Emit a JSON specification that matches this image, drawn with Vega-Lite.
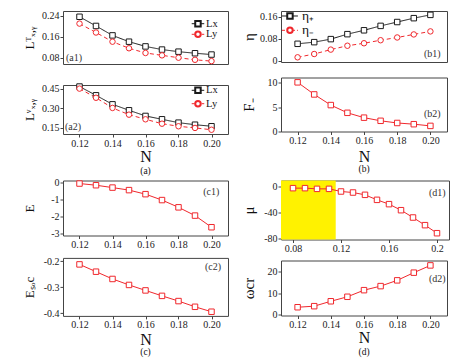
{
 "$schema": "https://vega.github.io/schema/vega-lite/v6.json",
 "padding": {"left": 22, "top": 8, "right": 2, "bottom": 0},
 "background": "white",
 "config": {
  "font": "Liberation Serif",
  "view": {"stroke": "#444", "strokeWidth": 1},
  "axis": {"domain": false, "grid": false, "labelOverlap": false, "labelFlush": false, "labelFont": "Liberation Serif", "labelFontSize": 10, "labelColor": "#222", "tickColor": "#444", "tickSize": 3, "labelPadding": 1, "titleFont": "Liberation Serif", "titleFontWeight": "normal", "titleColor": "#111", "titleFontSize": 13},
  "title": {"font": "Liberation Serif", "fontSize": 9.5, "fontWeight": "normal", "orient": "bottom", "frame": "group", "offset": 1, "color": "#111"},
  "text": {"font": "Liberation Serif"}
 },
 "datasets": {
  "lt": [
   {"N": 0.12, "series": "Lx", "L": 0.237}, {"N": 0.13, "series": "Lx", "L": 0.202}, {"N": 0.14, "series": "Lx", "L": 0.166},
   {"N": 0.15, "series": "Lx", "L": 0.142}, {"N": 0.16, "series": "Lx", "L": 0.124}, {"N": 0.17, "series": "Lx", "L": 0.112},
   {"N": 0.18, "series": "Lx", "L": 0.104}, {"N": 0.19, "series": "Lx", "L": 0.098}, {"N": 0.20, "series": "Lx", "L": 0.093},
   {"N": 0.12, "series": "Ly", "L": 0.211}, {"N": 0.13, "series": "Ly", "L": 0.177}, {"N": 0.14, "series": "Ly", "L": 0.142},
   {"N": 0.15, "series": "Ly", "L": 0.117}, {"N": 0.16, "series": "Ly", "L": 0.099}, {"N": 0.17, "series": "Ly", "L": 0.090},
   {"N": 0.18, "series": "Ly", "L": 0.081}, {"N": 0.19, "series": "Ly", "L": 0.073}, {"N": 0.20, "series": "Ly", "L": 0.068}
  ],
  "lv": [
   {"N": 0.12, "series": "Lx", "L": 0.468}, {"N": 0.13, "series": "Lx", "L": 0.400}, {"N": 0.14, "series": "Lx", "L": 0.330},
   {"N": 0.15, "series": "Lx", "L": 0.284}, {"N": 0.16, "series": "Lx", "L": 0.240}, {"N": 0.17, "series": "Lx", "L": 0.214},
   {"N": 0.18, "series": "Lx", "L": 0.188}, {"N": 0.19, "series": "Lx", "L": 0.172}, {"N": 0.20, "series": "Lx", "L": 0.160},
   {"N": 0.12, "series": "Ly", "L": 0.452}, {"N": 0.13, "series": "Ly", "L": 0.381}, {"N": 0.14, "series": "Ly", "L": 0.302},
   {"N": 0.15, "series": "Ly", "L": 0.250}, {"N": 0.16, "series": "Ly", "L": 0.214}, {"N": 0.17, "series": "Ly", "L": 0.180},
   {"N": 0.18, "series": "Ly", "L": 0.160}, {"N": 0.19, "series": "Ly", "L": 0.147}, {"N": 0.20, "series": "Ly", "L": 0.133}
  ],
  "eta": [
   {"N": 0.12, "series": "η₊", "eta": 0.061}, {"N": 0.13, "series": "η₊", "eta": 0.067}, {"N": 0.14, "series": "η₊", "eta": 0.078},
   {"N": 0.15, "series": "η₊", "eta": 0.096}, {"N": 0.16, "series": "η₊", "eta": 0.110}, {"N": 0.17, "series": "η₊", "eta": 0.126},
   {"N": 0.18, "series": "η₊", "eta": 0.140}, {"N": 0.19, "series": "η₊", "eta": 0.154}, {"N": 0.20, "series": "η₊", "eta": 0.166},
   {"N": 0.12, "series": "η₋", "eta": 0.012}, {"N": 0.13, "series": "η₋", "eta": 0.024}, {"N": 0.14, "series": "η₋", "eta": 0.040},
   {"N": 0.15, "series": "η₋", "eta": 0.054}, {"N": 0.16, "series": "η₋", "eta": 0.063}, {"N": 0.17, "series": "η₋", "eta": 0.074},
   {"N": 0.18, "series": "η₋", "eta": 0.084}, {"N": 0.19, "series": "η₋", "eta": 0.095}, {"N": 0.20, "series": "η₋", "eta": 0.106}
  ],
  "F": [
   {"N": 0.12, "F": 10.1}, {"N": 0.13, "F": 7.6}, {"N": 0.14, "F": 5.4}, {"N": 0.15, "F": 3.8}, {"N": 0.16, "F": 2.8},
   {"N": 0.17, "F": 2.15}, {"N": 0.18, "F": 1.7}, {"N": 0.19, "F": 1.45}, {"N": 0.20, "F": 1.1}
  ],
  "E": [
   {"N": 0.12, "E": -0.06}, {"N": 0.13, "E": -0.16}, {"N": 0.14, "E": -0.3}, {"N": 0.15, "E": -0.45}, {"N": 0.16, "E": -0.69},
   {"N": 0.17, "E": -1.04}, {"N": 0.18, "E": -1.47}, {"N": 0.19, "E": -1.96}, {"N": 0.20, "E": -2.65}
  ],
  "Esoc": [
   {"N": 0.12, "Esoc": -0.212}, {"N": 0.13, "Esoc": -0.240}, {"N": 0.14, "Esoc": -0.268}, {"N": 0.15, "Esoc": -0.291},
   {"N": 0.16, "Esoc": -0.312}, {"N": 0.17, "Esoc": -0.333}, {"N": 0.18, "Esoc": -0.353}, {"N": 0.19, "Esoc": -0.375},
   {"N": 0.20, "Esoc": -0.394}
  ],
  "mu": [
   {"N": 0.08, "mu": -2.1}, {"N": 0.09, "mu": -2.1}, {"N": 0.10, "mu": -3.2}, {"N": 0.11, "mu": -3.2}, {"N": 0.12, "mu": -7.3},
   {"N": 0.13, "mu": -8.9}, {"N": 0.14, "mu": -12.5}, {"N": 0.15, "mu": -20.3}, {"N": 0.16, "mu": -27.0}, {"N": 0.17, "mu": -36.4},
   {"N": 0.18, "mu": -47.8}, {"N": 0.19, "mu": -59.7}, {"N": 0.20, "mu": -72.2}
  ],
  "omega": [
   {"N": 0.12, "w": 3.4}, {"N": 0.13, "w": 3.9}, {"N": 0.14, "w": 6.2}, {"N": 0.15, "w": 8.3}, {"N": 0.16, "w": 11.4},
   {"N": 0.17, "w": 13.3}, {"N": 0.18, "w": 16.0}, {"N": 0.19, "w": 19.6}, {"N": 0.20, "w": 23.0}
  ]
 },
 "spacing": 0.5,
 "vconcat": [
  {"hconcat": [
   {"vconcat": [
    {"width": 165, "height": 53, "data": {"name": "lt"},
     "layer": [
      {"mark": {"type": "line", "strokeWidth": 1},
       "encoding": {
        "x": {"field": "N", "type": "quantitative", "scale": {"domain": [0.11, 0.21], "nice": false, "zero": false}, "axis": null},
        "y": {"field": "L", "type": "quantitative", "scale": {"domain": [0.057, 0.259], "nice": false, "zero": false},
              "axis": {"title": "Lᵀₓ,ᵧ", "values": [0.08, 0.16, 0.24], "tickCount": 10, "labelOverlap": false, "format": ".2f", "minExtent": 24, "maxExtent": 24, "titlePadding": 3}},
        "color": {"field": "series", "type": "nominal", "scale": {"domain": ["Lx", "Ly"], "range": ["#1a1a1a", "#f0282d"]}, "legend": null},
        "strokeDash": {"field": "series", "type": "nominal", "scale": {"domain": ["Lx", "Ly"], "range": [[1, 0], [4, 3]]}, "legend": null}}},
      {"mark": {"type": "point", "filled": false, "fill": "white", "size": 30, "strokeWidth": 1, "opacity": 1},
       "encoding": {
        "x": {"field": "N", "type": "quantitative"},
        "y": {"field": "L", "type": "quantitative"},
        "color": {"field": "series", "type": "nominal", "legend": null},
        "shape": {"field": "series", "type": "nominal", "scale": {"domain": ["Lx", "Ly"], "range": ["square", "circle"]}, "legend": null}}},
      {"data": {"values": [{}]}, "mark": {"type": "rule", "color": "#1a1a1a", "strokeWidth": 1},
       "encoding": {"x": {"datum": 0.188}, "x2": {"datum": 0.1956}, "y": {"datum": 0.2106}}},
      {"data": {"values": [{}]}, "mark": {"type": "point", "shape": "square", "color": "#1a1a1a", "fill": "white", "filled": false, "size": 30, "opacity": 1},
       "encoding": {"x": {"datum": 0.1918}, "y": {"datum": 0.2106}}},
      {"data": {"values": [{}]}, "mark": {"type": "text", "align": "left", "baseline": "middle", "fontSize": 10.5, "color": "#111"},
       "encoding": {"x": {"datum": 0.1967}, "y": {"datum": 0.2106}, "text": {"value": "Lx"}}},
      {"data": {"values": [{}]}, "mark": {"type": "rule", "color": "#f0282d", "strokeWidth": 1, "strokeDash": [3, 2]},
       "encoding": {"x": {"datum": 0.188}, "x2": {"datum": 0.1956}, "y": {"datum": 0.1702}}},
      {"data": {"values": [{}]}, "mark": {"type": "point", "shape": "circle", "color": "#f0282d", "fill": "white", "filled": false, "size": 30, "opacity": 1},
       "encoding": {"x": {"datum": 0.1918}, "y": {"datum": 0.1702}}},
      {"data": {"values": [{}]}, "mark": {"type": "text", "align": "left", "baseline": "middle", "fontSize": 10.5, "color": "#111"},
       "encoding": {"x": {"datum": 0.1967}, "y": {"datum": 0.1702}, "text": {"value": "Ly"}}},
      {"data": {"values": [{}]}, "mark": {"type": "text", "align": "left", "baseline": "middle", "fontSize": 10, "color": "#333"},
       "encoding": {"x": {"datum": 0.1118}, "y": {"datum": 0.0799}, "text": {"value": "(a1)"}}}
     ]},
    {"width": 165, "height": 49, "data": {"name": "lv"},
     "title": {"text": "(a)", "offset": 1.8},
     "layer": [
      {"mark": {"type": "line", "strokeWidth": 1},
       "encoding": {
        "x": {"field": "N", "type": "quantitative", "scale": {"domain": [0.11, 0.21], "nice": false, "zero": false},
              "axis": {"title": "N", "values": [0.12, 0.14, 0.16, 0.18, 0.2], "tickCount": 10, "format": ".2f", "titleFontSize": 16, "titlePadding": 0, "minExtent": 14, "maxExtent": 14}},
        "y": {"field": "L", "type": "quantitative", "scale": {"domain": [0.1, 0.48], "nice": false, "zero": false},
              "axis": {"title": "Lᵛₓ,ᵧ", "values": [0.15, 0.30, 0.45], "tickCount": 10, "labelOverlap": false, "format": ".2f", "minExtent": 24, "maxExtent": 24, "titlePadding": 3}},
        "color": {"field": "series", "type": "nominal", "scale": {"domain": ["Lx", "Ly"], "range": ["#1a1a1a", "#f0282d"]}, "legend": null},
        "strokeDash": {"field": "series", "type": "nominal", "scale": {"domain": ["Lx", "Ly"], "range": [[1, 0], [4, 3]]}, "legend": null}}},
      {"mark": {"type": "point", "filled": false, "fill": "white", "size": 30, "strokeWidth": 1, "opacity": 1},
       "encoding": {
        "x": {"field": "N", "type": "quantitative"},
        "y": {"field": "L", "type": "quantitative"},
        "color": {"field": "series", "type": "nominal", "legend": null},
        "shape": {"field": "series", "type": "nominal", "scale": {"domain": ["Lx", "Ly"], "range": ["square", "circle"]}, "legend": null}}},
      {"data": {"values": [{}]}, "mark": {"type": "rule", "color": "#1a1a1a", "strokeWidth": 1},
       "encoding": {"x": {"datum": 0.188}, "x2": {"datum": 0.1956}, "y": {"datum": 0.4389}}},
      {"data": {"values": [{}]}, "mark": {"type": "point", "shape": "square", "color": "#1a1a1a", "fill": "white", "filled": false, "size": 30, "opacity": 1},
       "encoding": {"x": {"datum": 0.1918}, "y": {"datum": 0.4389}}},
      {"data": {"values": [{}]}, "mark": {"type": "text", "align": "left", "baseline": "middle", "fontSize": 10.5, "color": "#111"},
       "encoding": {"x": {"datum": 0.1967}, "y": {"datum": 0.4389}, "text": {"value": "Lx"}}},
      {"data": {"values": [{}]}, "mark": {"type": "rule", "color": "#f0282d", "strokeWidth": 1, "strokeDash": [3, 2]},
       "encoding": {"x": {"datum": 0.188}, "x2": {"datum": 0.1956}, "y": {"datum": 0.335}}},
      {"data": {"values": [{}]}, "mark": {"type": "point", "shape": "circle", "color": "#f0282d", "fill": "white", "filled": false, "size": 30, "opacity": 1},
       "encoding": {"x": {"datum": 0.1918}, "y": {"datum": 0.335}}},
      {"data": {"values": [{}]}, "mark": {"type": "text", "align": "left", "baseline": "middle", "fontSize": 10.5, "color": "#111"},
       "encoding": {"x": {"datum": 0.1967}, "y": {"datum": 0.335}, "text": {"value": "Ly"}}},
      {"data": {"values": [{}]}, "mark": {"type": "text", "align": "left", "baseline": "middle", "fontSize": 10, "color": "#333"},
       "encoding": {"x": {"datum": 0.1112}, "y": {"datum": 0.154}, "text": {"value": "(a2)"}}}
     ]}
   ], "spacing": 14},
   {"vconcat": [
    {"width": 166, "height": 51, "data": {"name": "eta"},
     "layer": [
      {"mark": {"type": "line", "strokeWidth": 1},
       "encoding": {
        "x": {"field": "N", "type": "quantitative", "scale": {"domain": [0.11, 0.21], "nice": false, "zero": false}, "axis": null},
        "y": {"field": "eta", "type": "quantitative", "scale": {"domain": [-0.005, 0.18], "nice": false, "zero": false},
              "axis": {"title": "η", "values": [0, 0.08, 0.16], "tickCount": 10, "labelOverlap": false, "format": "~g", "minExtent": 22, "maxExtent": 22, "titlePadding": 3, "titleFontSize": 15}},
        "color": {"field": "series", "type": "nominal", "scale": {"domain": ["η₊", "η₋"], "range": ["#1a1a1a", "#f0282d"]}, "legend": null},
        "strokeDash": {"field": "series", "type": "nominal", "scale": {"domain": ["η₊", "η₋"], "range": [[1, 0], [4, 3]]}, "legend": null}}},
      {"mark": {"type": "point", "filled": false, "fill": "white", "size": 30, "strokeWidth": 1, "opacity": 1},
       "encoding": {
        "x": {"field": "N", "type": "quantitative"},
        "y": {"field": "eta", "type": "quantitative"},
        "color": {"field": "series", "type": "nominal", "legend": null},
        "shape": {"field": "series", "type": "nominal", "scale": {"domain": ["η₊", "η₋"], "range": ["square", "circle"]}, "legend": null}}},
      {"data": {"values": [{}]}, "mark": {"type": "rule", "color": "#1a1a1a", "strokeWidth": 1},
       "encoding": {"x": {"datum": 0.1106}, "x2": {"datum": 0.1202}, "y": {"datum": 0.1619}}},
      {"data": {"values": [{}]}, "mark": {"type": "point", "shape": "square", "color": "#1a1a1a", "fill": "white", "filled": false, "size": 30, "opacity": 1},
       "encoding": {"x": {"datum": 0.1154}, "y": {"datum": 0.1619}}},
      {"data": {"values": [{}]}, "mark": {"type": "text", "align": "left", "baseline": "middle", "fontSize": 13.5, "color": "#111"},
       "encoding": {"x": {"datum": 0.1227}, "y": {"datum": 0.1619}, "text": {"value": "η₊"}}},
      {"data": {"values": [{}]}, "mark": {"type": "rule", "color": "#f0282d", "strokeWidth": 1, "strokeDash": [3, 2]},
       "encoding": {"x": {"datum": 0.1106}, "x2": {"datum": 0.1202}, "y": {"datum": 0.110}}},
      {"data": {"values": [{}]}, "mark": {"type": "point", "shape": "circle", "color": "#f0282d", "fill": "white", "filled": false, "size": 30, "opacity": 1},
       "encoding": {"x": {"datum": 0.1154}, "y": {"datum": 0.110}}},
      {"data": {"values": [{}]}, "mark": {"type": "text", "align": "left", "baseline": "middle", "fontSize": 13.5, "color": "#111"},
       "encoding": {"x": {"datum": 0.1227}, "y": {"datum": 0.110}, "text": {"value": "η₋"}}},
      {"data": {"values": [{}]}, "mark": {"type": "text", "align": "right", "baseline": "middle", "fontSize": 10, "color": "#333"},
       "encoding": {"x": {"datum": 0.2062}, "y": {"datum": 0.0251}, "text": {"value": "(b1)"}}}
     ]},
    {"width": 166, "height": 54, "data": {"name": "F"},
     "title": {"text": "(b)", "offset": 0},
     "layer": [
      {"mark": {"type": "line", "strokeWidth": 1, "color": "#f0282d"},
       "encoding": {
        "x": {"field": "N", "type": "quantitative", "scale": {"domain": [0.11, 0.21], "nice": false, "zero": false},
              "axis": {"title": "N", "values": [0.12, 0.14, 0.16, 0.18, 0.2], "tickCount": 10, "format": ".2f", "titleFontSize": 16, "titlePadding": 0, "minExtent": 16.5, "maxExtent": 16.5}},
        "y": {"field": "F", "type": "quantitative", "scale": {"domain": [-0.06, 11.1], "nice": false, "zero": false},
              "axis": {"title": "F₋", "values": [0, 5, 10], "tickCount": 10, "labelOverlap": false, "format": "d", "minExtent": 22, "maxExtent": 22, "titlePadding": 3, "titleFontSize": 15}}}},
      {"mark": {"type": "point", "shape": "square", "color": "#f0282d", "filled": false, "fill": "white", "size": 30, "strokeWidth": 1, "opacity": 1},
       "encoding": {"x": {"field": "N", "type": "quantitative"}, "y": {"field": "F", "type": "quantitative"}}},
      {"data": {"values": [{}]}, "mark": {"type": "text", "align": "right", "baseline": "middle", "fontSize": 10, "color": "#333"},
       "encoding": {"x": {"datum": 0.2062}, "y": {"datum": 3.46}, "text": {"value": "(b2)"}}}
     ]}
   ], "spacing": 9.5}
  ], "spacing": 11},
  {"hconcat": [
   {"vconcat": [
    {"width": 165, "height": 55, "data": {"name": "E"},
     "layer": [
      {"mark": {"type": "line", "strokeWidth": 1, "color": "#f0282d"},
       "encoding": {
        "x": {"field": "N", "type": "quantitative", "scale": {"domain": [0.11, 0.21], "nice": false, "zero": false},
              "axis": {"title": null, "values": [0.12, 0.14, 0.16, 0.18, 0.2], "tickCount": 10, "format": ".2f"}},
        "y": {"field": "E", "type": "quantitative", "scale": {"domain": [-3.14, 0.12], "nice": false, "zero": false},
              "axis": {"title": "E", "values": [0, -1, -2, -3], "tickCount": 10, "labelOverlap": false, "format": "d", "labelExpr": "replace(datum.label, '\u2212', '-')", "minExtent": 24, "maxExtent": 24, "titlePadding": 3}}}},
      {"mark": {"type": "point", "shape": "square", "color": "#f0282d", "filled": false, "fill": "white", "size": 30, "strokeWidth": 1, "opacity": 1},
       "encoding": {"x": {"field": "N", "type": "quantitative"}, "y": {"field": "E", "type": "quantitative"}}},
      {"data": {"values": [{}]}, "mark": {"type": "text", "align": "right", "baseline": "middle", "fontSize": 10, "color": "#333"},
       "encoding": {"x": {"datum": 0.2047}, "y": {"datum": -0.551}, "text": {"value": "(c1)"}}}
     ]},
    {"width": 165, "height": 58, "data": {"name": "Esoc"},
     "title": {"text": "(c)", "offset": 0},
     "layer": [
      {"mark": {"type": "line", "strokeWidth": 1, "color": "#f0282d"},
       "encoding": {
        "x": {"field": "N", "type": "quantitative", "scale": {"domain": [0.11, 0.21], "nice": false, "zero": false},
              "axis": {"title": "N", "values": [0.12, 0.14, 0.16, 0.18, 0.2], "tickCount": 10, "format": ".2f", "titleFontSize": 16, "titlePadding": 0, "minExtent": 15.5, "maxExtent": 15.5}},
        "y": {"field": "Esoc", "type": "quantitative", "scale": {"domain": [-0.41, -0.187], "nice": false, "zero": false},
              "axis": {"title": "Eₛₒc", "values": [-0.2, -0.3, -0.4], "tickCount": 10, "labelOverlap": false, "format": ".1f", "labelExpr": "replace(datum.label, '\u2212', '-')", "minExtent": 24, "maxExtent": 24, "titlePadding": 3}}}},
      {"mark": {"type": "point", "shape": "square", "color": "#f0282d", "filled": false, "fill": "white", "size": 30, "strokeWidth": 1, "opacity": 1},
       "encoding": {"x": {"field": "N", "type": "quantitative"}, "y": {"field": "Esoc", "type": "quantitative"}}},
      {"data": {"values": [{}]}, "mark": {"type": "text", "align": "right", "baseline": "middle", "fontSize": 10, "color": "#333"},
       "encoding": {"x": {"datum": 0.2058}, "y": {"datum": -0.2216}, "text": {"value": "(c2)"}}}
     ]}
   ], "spacing": 4.4},
   {"vconcat": [
    {"width": 168, "height": 59, "data": {"name": "mu"},
     "layer": [
      {"data": {"values": [{}]}, "mark": {"type": "rect", "color": "#fff200"},
       "encoding": {"x": {"datum": 0.07}, "x2": {"datum": 0.1156}, "y": {"datum": 9.8}, "y2": {"datum": -82}}},
      {"mark": {"type": "line", "strokeWidth": 1, "color": "#f0282d"},
       "encoding": {
        "x": {"field": "N", "type": "quantitative", "scale": {"domain": [0.07, 0.21], "nice": false, "zero": false},
              "axis": {"title": null, "values": [0.08, 0.12, 0.16, 0.2], "tickCount": 10, "format": "~g"}},
        "y": {"field": "mu", "type": "quantitative", "scale": {"domain": [-82, 9.8], "nice": false, "zero": false},
              "axis": {"title": "μ", "values": [0, -40, -80], "tickCount": 10, "labelOverlap": false, "format": "d", "labelExpr": "replace(datum.label, '\u2212', '-')", "minExtent": 22, "maxExtent": 22, "titlePadding": 3, "titleFontSize": 15}}}},
      {"mark": {"type": "point", "shape": "square", "color": "#f0282d", "filled": false, "fill": "white", "size": 30, "strokeWidth": 1, "opacity": 1},
       "encoding": {"x": {"field": "N", "type": "quantitative"}, "y": {"field": "mu", "type": "quantitative"}}},
      {"data": {"values": [{}]}, "mark": {"type": "text", "align": "right", "baseline": "middle", "fontSize": 10, "color": "#333"},
       "encoding": {"x": {"datum": 0.2072}, "y": {"datum": -10.4}, "text": {"value": "(d1)"}}}
     ]},
    {"width": 166, "height": 55, "data": {"name": "omega"},
     "title": {"text": "(d)", "offset": 1},
     "layer": [
      {"mark": {"type": "line", "strokeWidth": 1, "color": "#f0282d"},
       "encoding": {
        "x": {"field": "N", "type": "quantitative", "scale": {"domain": [0.11, 0.21], "nice": false, "zero": false},
              "axis": {"title": "N", "values": [0.12, 0.14, 0.16, 0.18, 0.2], "tickCount": 10, "format": ".2f", "titleFontSize": 16, "titlePadding": 0, "minExtent": 14, "maxExtent": 14}},
        "y": {"field": "w", "type": "quantitative", "scale": {"domain": [-0.47, 25.3], "nice": false, "zero": false},
              "axis": {"title": "ωcr", "values": [0, 10, 20], "tickCount": 10, "labelOverlap": false, "format": "d", "minExtent": 22, "maxExtent": 22, "titlePadding": 3, "titleFontSize": 15}}}},
      {"mark": {"type": "point", "shape": "square", "color": "#f0282d", "filled": false, "fill": "white", "size": 30, "strokeWidth": 1, "opacity": 1},
       "encoding": {"x": {"field": "N", "type": "quantitative"}, "y": {"field": "w", "type": "quantitative"}}},
      {"data": {"values": [{}]}, "mark": {"type": "text", "align": "right", "baseline": "middle", "fontSize": 10, "color": "#333"},
       "encoding": {"x": {"datum": 0.2092}, "y": {"datum": 16.4}, "text": {"value": "(d2)"}}}
     ]}
   ], "spacing": 5}
  ], "spacing": 11}
 ]
}
